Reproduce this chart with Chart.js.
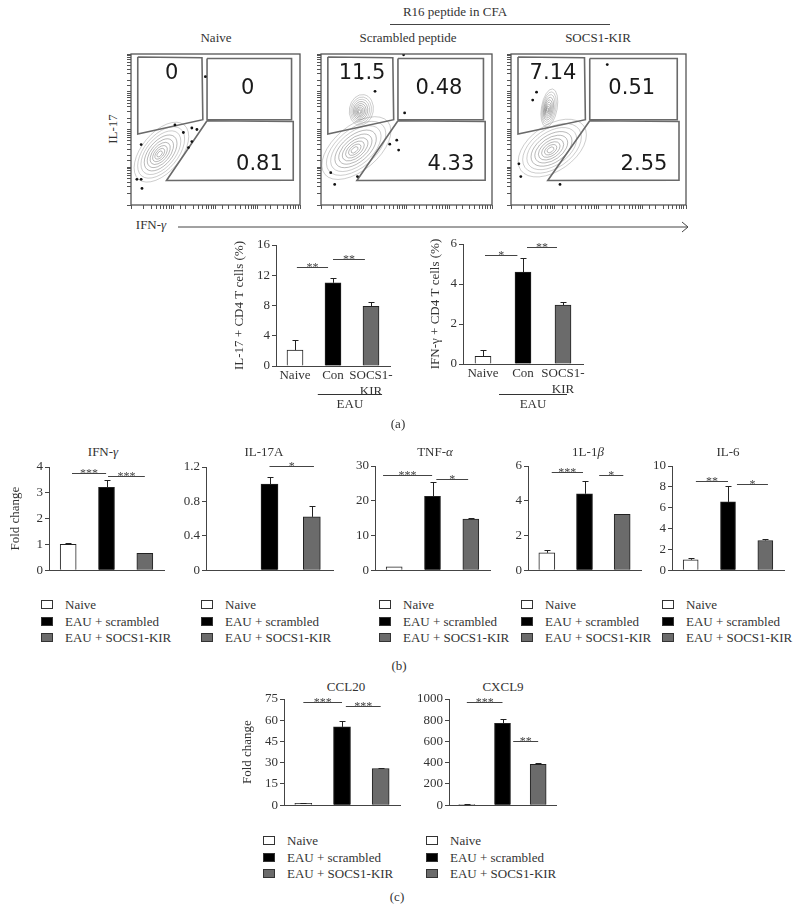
<!DOCTYPE html>
<html>
<head>
<meta charset="utf-8">
<title>SOCS1-KIR figure</title>
<script src="https://cdn.jsdelivr.net/npm/chart.js@4.4.1/dist/chart.umd.min.js"></script>
<style>
  body { margin: 0; background: #fff; }
  #page { position: relative; width: 798px; height: 922px; overflow: hidden;
          font-family: "Liberation Serif", "DejaVu Serif", serif; color: #333; font-size: 13px; }
  .box { position: absolute; }
  .txt { position: absolute; white-space: nowrap; line-height: 1; transform: translate(-50%, -50%); }
  .rot { transform: translate(-50%, -50%) rotate(-90deg); }
  .hline { position: absolute; height: 0; border-top: 1px solid #444; }
  .leg { position: absolute; line-height: 16.5px; white-space: nowrap; }
  .leg span { display: inline-block; width: 10px; height: 7px; border: 1px solid #333; margin-right: 12px; }
</style>
</head>
<body>
<div id="page"></div>
<script>
// ---------- data ----------
const groups = ['Naive', 'EAU + scrambled', 'EAU + SOCS1-KIR'];
const groupColors = ['#ffffff', '#000000', '#6b6b6b'];

// (a) flow plots, axes in 0-100 channel units
const flowTitles = ['Naive', 'Scrambled peptide', 'SOCS1-KIR'];
const gatePct = [[0, 0, 0.81], [11.5, 0.48, 4.33], [7.14, 0.51, 2.55]];
const gateIL17 = [[4, 98], [42, 97.5], [42.5, 56.5], [4, 47], [4, 98]];
const gateDouble = [[45, 97], [95, 97], [95, 56.5], [45, 56.5], [45, 97]];
const gateIFNg = [[45, 55.8], [96, 55.3], [96, 16.5], [21, 16.2], [45, 55.8]];
const gateLabelPos = [[24, 87], [69, 77], [76, 27]];
const naiveDots = [[44, 85], [26, 53], [36, 51], [39, 50], [31, 48], [6, 40], [36, 42], [34, 38], [3.5, 17], [6, 17], [6.5, 11]];
const scrambledDots = [[23.6, 83.8], [31.6, 75.3], [48.9, 61], [44.3, 42.9], [40.2, 40.3], [45.4, 36.4], [5.7, 21.4], [8, 13.6], [21.3, 18.8], [48.3, 99.5]];
const kirDots = [[55, 93], [14.6, 74.7], [12.4, 69.5], [4.5, 27.3], [5.6, 18.8], [28, 13.6]];
// contour blobs: centre x, centre y, half length, half width, angle
const naiveBlobs = [[18, 35, 21, 11.6, -50]];
const scrambledBlobs = [[20.7, 37.7, 24, 13, -40], [23.6, 63, 9, 7, -80]];
const kirBlobs = [[23.6, 37.7, 22, 13, -35], [21.9, 64.3, 11, 4.5, -80]];
const contourRings = [1, 0.86, 0.73, 0.6, 0.48, 0.37, 0.27, 0.18, 0.1];

// (a) bar charts
const aLabels = ['Naive', 'Con', ['SOCS1-', 'KIR']];
const il17Pct = [2.1, 11.0, 7.9];
const il17Err = [1.3, 0.6, 0.6];
const il17Sig = [[0.05, 0.87, 13.1, '**'], [1.0, 1.84, 14.2, '**']];
const ifngPct = [0.38, 4.6, 2.95];
const ifngErr = [0.3, 0.7, 0.15];
const ifngSig = [[0.05, 0.86, 5.45, '*'], [1.1, 1.85, 5.85, '**']];

// (b) fold change
const ifngFold = [1.0, 3.21, 0.65];
const ifngFoldErr = [0.06, 0.28, 0];
const ifngFoldSig = [[0.1, 0.99, 3.78, '***'], [1.04, 2.0, 3.66, '***']];
const il17aFold = [0, 1.0, 0.62];
const il17aFoldErr = [0, 0.08, 0.13];
const il17aFoldSig = [[1.0, 2.05, 1.21, '*']];
const tnfFold = [1.0, 21.3, 14.7];
const tnfFoldErr = [0, 4.0, 0.2];
const tnfFoldSig = [[-0.29, 0.99, 27.5, '***'], [1.1, 1.93, 26.4, '*']];
const il1bFold = [1.0, 4.4, 3.22];
const il1bFoldErr = [0.15, 0.72, 0];
const il1bFoldSig = [[0.13, 0.96, 5.67, '***'], [1.39, 2.03, 5.5, '*']];
const il6Fold = [1.0, 6.55, 2.85];
const il6FoldErr = [0.15, 1.5, 0.1];
const il6FoldSig = [[0.14, 1.0, 8.6, '**'], [1.24, 2.07, 8.3, '*']];

// (c) fold change
const ccl20Fold = [1.4, 55.3, 25.9];
const ccl20FoldErr = [0.4, 4.5, 0.6];
const ccl20FoldSig = [[0.0, 1.0, 73, '***'], [1.1, 2.0, 70, '***']];
const cxcl9Fold = [8, 770, 385];
const cxcl9FoldErr = [2, 40, 8];
const cxcl9FoldSig = [[0.0, 1.0, 970, '***'], [1.3, 2.0, 600, '**']];

// ---------- helpers ----------
Chart.defaults.font.family = '"Liberation Serif", serif';
Chart.defaults.font.size = 13;
Chart.defaults.color = '#333';
Chart.defaults.animation = false;
Chart.defaults.plugins.legend.display = false;
Chart.defaults.plugins.tooltip.enabled = false;

const page = document.getElementById('page');

function txt(html, x, y, extra) {
  const d = document.createElement('div');
  d.className = 'txt' + (extra ? ' ' + extra : '');
  d.style.left = x + 'px';
  d.style.top = y + 'px';
  d.innerHTML = html;
  page.appendChild(d);
}
function hline(x1, x2, y) {
  const d = document.createElement('div');
  d.className = 'hline';
  d.style.left = x1 + 'px'; d.style.width = (x2 - x1) + 'px'; d.style.top = y + 'px';
  page.appendChild(d);
}
function legend(x, y) {
  const d = document.createElement('div');
  d.className = 'leg';
  d.style.left = x + 'px';
  d.style.top = (y - 8) + 'px';
  d.innerHTML = groups.map((g, i) => `<div><span style="background:${groupColors[i]}"></span>${g}</div>`).join('');
  page.appendChild(d);
}
function box(l, t, w, h) {
  const b = document.createElement('div');
  b.className = 'box';
  Object.assign(b.style, { left: l + 'px', top: t + 'px', width: w + 'px', height: h + 'px' });
  const cv = document.createElement('canvas');
  b.appendChild(cv);
  page.appendChild(b);
  return cv;
}

// ---------- flow plots ----------
const flowPlugin = {
  id: 'flow',
  beforeDatasetsDraw(chart, args, o) {
    const { ctx, chartArea: ca } = chart;
    const sx = chart.scales.x, sy = chart.scales.y;
    const ppu = sx.getPixelForValue(1) - sx.getPixelForValue(0);
    ctx.save();
    ctx.beginPath(); ctx.rect(ca.left, ca.top, ca.width, ca.height); ctx.clip();
    o.blobs.forEach(bl => {
      const cx = sx.getPixelForValue(bl[0]), cy = sy.getPixelForValue(bl[1]);
      contourRings.forEach((k, j) => {
        ctx.beginPath();
        ctx.ellipse(cx - (1 - k) * 2, cy + (1 - k) * 2, bl[2] * ppu * k, bl[3] * ppu * k, bl[4] * Math.PI / 180, 0, Math.PI * 2);
        ctx.strokeStyle = j < 3 ? 'rgba(130,130,130,0.5)' : 'rgba(80,80,80,0.5)';
        ctx.lineWidth = 0.8;
        ctx.stroke();
      });
    });
    ctx.restore();
  },
  afterDraw(chart, args, o) {
    const { ctx, chartArea: ca } = chart;
    const sx = chart.scales.x, sy = chart.scales.y;
    ctx.save();
    ctx.strokeStyle = '#555';
    ctx.lineWidth = 1.3;
    ctx.strokeRect(ca.left, ca.top, ca.width, ca.height);
    ctx.fillStyle = '#1a1a1a';
    ctx.font = '21px "DejaVu Sans"';
    ctx.textAlign = 'center';
    ctx.textBaseline = 'middle';
    o.pct.forEach((v, i) => {
      ctx.fillText(String(v), sx.getPixelForValue(gateLabelPos[i][0]), sy.getPixelForValue(gateLabelPos[i][1]));
    });
    ctx.restore();
  }
};

function makeFlow(i, left, right, dots, blobs) {
  const top = 50, bottom = 204, tk = 5;
  const cv = box(left - tk, top, right - left + tk + 1, bottom - top + tk + 1);
  const pts = a => a.map(p => ({ x: p[0], y: p[1] }));
  const logAxis = (pos) => ({
    type: 'logarithmic', position: pos, min: 1, max: 10000,
    ticks: { display: false },
    grid: { drawOnChartArea: false, tickLength: 4, color: '#555' },
    border: { display: false },
    afterFit: s => { if (pos === 'bottom') s.height = tk; else s.width = tk; }
  });
  new Chart(cv, {
    type: 'scatter',
    data: {
      datasets: [
        { data: pts(dots), pointRadius: 1.4, backgroundColor: '#111', borderWidth: 0 },
        ...[gateIL17, gateDouble, gateIFNg].map(g => ({
          data: pts(g), showLine: true, pointRadius: 0, borderColor: '#6a6a6a', borderWidth: 1.6
        }))
      ]
    },
    options: {
      responsive: true, maintainAspectRatio: false,
      layout: { padding: { left: 0, top: 1, right: 1, bottom: 0 } },
      scales: {
        x: { type: 'linear', min: 0, max: 100, display: false },
        y: { type: 'linear', min: 0, max: 100, display: false },
        lx: logAxis('bottom'),
        ly: logAxis('left')
      },
      plugins: { flow: { blobs: blobs, pct: gatePct[i] } }
    },
    plugins: [flowPlugin]
  });
}

// ---------- bar charts ----------
const barExtras = {
  id: 'barExtras',
  afterDatasetsDraw(chart, args, o) {
    const { ctx } = chart;
    const sx = chart.scales.x, sy = chart.scales.y;
    const meta = chart.getDatasetMeta(0), vals = chart.data.datasets[0].data;
    ctx.save();
    ctx.lineWidth = 1;
    ctx.strokeStyle = '#222';
    (o.errs || []).forEach((e, i) => {
      if (!e) return;
      const x = Math.round(meta.data[i].x) + 0.5;
      const y0 = sy.getPixelForValue(vals[i]);
      const y1 = Math.round(sy.getPixelForValue(vals[i] + e)) + 0.5;
      ctx.beginPath();
      ctx.moveTo(x, y0); ctx.lineTo(x, y1);
      ctx.moveTo(x - 3, y1); ctx.lineTo(x + 3, y1);
      ctx.stroke();
    });
    ctx.strokeStyle = '#444';
    ctx.fillStyle = '#444';
    ctx.font = '12px "Liberation Serif"';
    ctx.textAlign = 'center';
    ctx.textBaseline = 'alphabetic';
    (o.sig || []).forEach(s => {
      const x1 = sx.getPixelForValue(s[0]), x2 = sx.getPixelForValue(s[1]);
      const y = Math.round(sy.getPixelForValue(s[2])) + 0.5;
      ctx.beginPath(); ctx.moveTo(x1, y); ctx.lineTo(x2, y); ctx.stroke();
      const n = s[3].length, cx = (x1 + x2) / 2;
      for (let k = 0; k < n; k++) ctx.fillText(s[3][k], cx + (k - (n - 1) / 2) * 6, y + 3);
    });
    if (o.under) {
      const u = o.under;
      const x1 = sx.getPixelForValue(u.from), x2 = sx.getPixelForValue(u.to);
      const y = Math.round(sy.bottom + u.dy) + 0.5;
      ctx.strokeStyle = '#333';
      ctx.beginPath(); ctx.moveTo(x1, y); ctx.lineTo(x2, y); ctx.stroke();
      ctx.fillStyle = '#333';
      ctx.font = '13px "Liberation Serif"';
      ctx.textBaseline = 'middle';
      ctx.fillText(u.text, (x1 + x2) / 2, y + 10);
    }
    ctx.restore();
  }
};

function makeBar(s) {
  const [l, t, r, b] = s.area;
  const padT = 40, padR = 8, padB = s.under ? 24 : 4, hx = s.hx || 2;
  const cv = box(l - s.wy, t - padT, r - l + s.wy + padR, b - t + padT + hx + padB);
  new Chart(cv, {
    type: 'bar',
    data: {
      labels: s.labels || groups,
      datasets: [{
        data: s.values,
        backgroundColor: groupColors,
        borderColor: '#222',
        borderWidth: 1,
        borderSkipped: 'bottom',
        barThickness: s.bar,
        categoryPercentage: 1
      }]
    },
    options: {
      responsive: true, maintainAspectRatio: false,
      layout: { padding: { left: 0, top: padT, right: padR, bottom: padB } },
      scales: {
        x: {
          grid: { display: false, drawTicks: false },
          border: { display: true, color: '#444', width: 1 },
          ticks: { display: !!s.labels, padding: 2, maxRotation: 0, autoSkip: false, color: '#333' },
          afterFit: sc => { sc.height = hx; }
        },
        y: {
          min: 0, max: s.max,
          ticks: { stepSize: s.step, padding: 2, color: '#333', callback: v => String(Math.round(v * 100) / 100) },
          grid: { drawOnChartArea: false, tickLength: 4, color: '#444' },
          border: { display: true, color: '#444', width: 1 },
          title: { display: !!s.ytitle, text: s.ytitle, padding: 0, color: '#333', font: { size: 13 } },
          afterFit: sc => { sc.width = s.wy; }
        }
      },
      plugins: { barExtras: { errs: s.errs, sig: s.sig, under: s.under } }
    },
    plugins: [barExtras]
  });
}

// ---------- panel (a) ----------
txt('R16 peptide in CFA', 455, 11);
hline(390, 610, 24);
txt('Naive', 216, 37);
txt('Scrambled peptide', 408, 37);
txt('SOCS1-KIR', 598, 37);
txt('IL-17', 112, 129, 'rot');
txt('IFN-<i>γ</i>', 151, 224);
const arrow = document.createElementNS('http://www.w3.org/2000/svg', 'svg');
arrow.setAttribute('width', 520); arrow.setAttribute('height', 14);
arrow.style.cssText = 'position:absolute;left:176px;top:220px';
arrow.innerHTML = '<line x1="2" y1="7" x2="512" y2="7" stroke="#444" stroke-width="1"/><polyline points="506,2 512,7 506,12" fill="none" stroke="#444" stroke-width="1"/>';
page.appendChild(arrow);

makeFlow(0, 131, 303, naiveDots, naiveBlobs);
makeFlow(1, 321, 495, scrambledDots, scrambledBlobs);
makeFlow(2, 511, 689, kirDots, kirBlobs);

makeBar({ area: [276, 245, 390, 366], wy: 44, hx: 34, bar: 16, max: 16, step: 4,
  ytitle: 'IL-17 + CD4 T cells (%)', labels: aLabels, values: il17Pct, errs: il17Err, sig: il17Sig,
  under: { from: 0.6, to: 2.29, dy: 28, text: 'EAU' } });
makeBar({ area: [463, 244, 583, 364], wy: 35, hx: 34, bar: 16, max: 6, step: 2,
  ytitle: 'IFN-γ + CD4 T cells (%)', labels: aLabels, values: ifngPct, errs: ifngErr, sig: ifngSig,
  under: { from: 0.4, to: 2.1, dy: 30, text: 'EAU' } });
txt('(a)', 398, 423);

// ---------- panel (b) ----------
txt('IFN-<i>γ</i>', 103, 451);
txt('IL-17A', 264, 451);
txt('TNF-<i>α</i>', 435, 451);
txt('1L-1<i>β</i>', 588, 451);
txt('IL-6', 728, 451);
makeBar({ area: [49, 467, 164, 574], wy: 41, bar: 16, max: 4, step: 1, ytitle: 'Fold change',
  values: ifngFold, errs: ifngFoldErr, sig: ifngFoldSig });
makeBar({ area: [206, 467, 333, 574], wy: 30, bar: 17, max: 1.2, step: 0.4,
  values: il17aFold, errs: il17aFoldErr, sig: il17aFoldSig });
makeBar({ area: [375, 466, 490, 574], wy: 30, bar: 16, max: 30, step: 5,
  values: tnfFold, errs: tnfFoldErr, sig: tnfFoldSig });
makeBar({ area: [528, 466, 641, 574], wy: 30, bar: 16, max: 6, step: 1,
  values: il1bFold, errs: il1bFoldErr, sig: il1bFoldSig });
makeBar({ area: [672, 466, 784, 574], wy: 30, bar: 15, max: 10, step: 2,
  values: il6Fold, errs: il6FoldErr, sig: il6FoldSig });
legend(41, 605);
legend(201, 605);
legend(379, 605);
legend(521, 605);
legend(662, 605);
txt('(b)', 399, 665);

// ---------- panel (c) ----------
txt('CCL20', 346, 686);
txt('CXCL9', 503, 686);
makeBar({ area: [284, 699, 400, 809], wy: 44, bar: 17, max: 75, step: 15, ytitle: 'Fold change',
  values: ccl20Fold, errs: ccl20FoldErr, sig: ccl20FoldSig });
makeBar({ area: [449, 699, 556, 809], wy: 36, bar: 16, max: 1000, step: 200,
  values: cxcl9Fold, errs: cxcl9FoldErr, sig: cxcl9FoldSig });
legend(263, 841);
legend(426, 841);
txt('(c)', 397, 896);
</script>
</body>
</html>
